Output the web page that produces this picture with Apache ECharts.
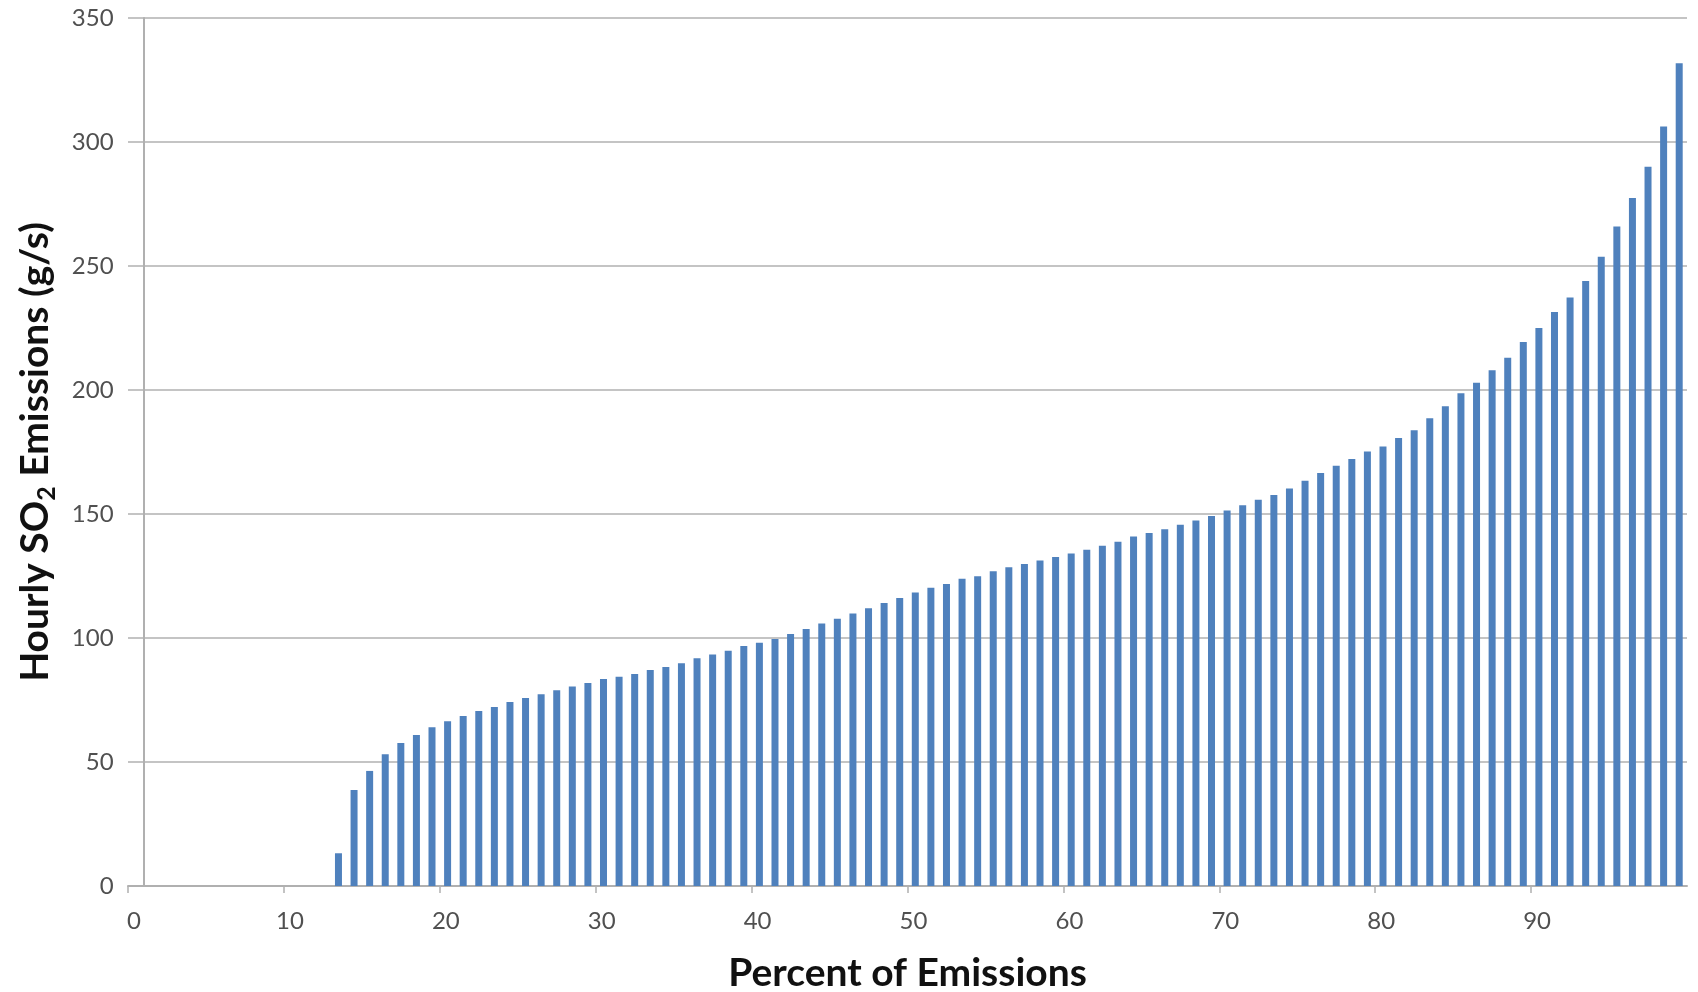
<!DOCTYPE html>
<html>
<head>
<meta charset="utf-8">
<script src="https://cdn.jsdelivr.net/npm/echarts@6/dist/echarts.min.js"></script>
<style>
  html, body { margin: 0; padding: 0; background: #fff; }
  #chart { width: 1698px; height: 992px; }
</style>
</head>
<body>
<div id="chart"></div>
<script>
// Percentile categories (0..99)
const categories = [
  '0','1','2','3','4','5','6','7','8','9',
  '10','11','12','13','14','15','16','17','18','19',
  '20','21','22','23','24','25','26','27','28','29',
  '30','31','32','33','34','35','36','37','38','39',
  '40','41','42','43','44','45','46','47','48','49',
  '50','51','52','53','54','55','56','57','58','59',
  '60','61','62','63','64','65','66','67','68','69',
  '70','71','72','73','74','75','76','77','78','79',
  '80','81','82','83','84','85','86','87','88','89',
  '90','91','92','93','94','95','96','97','98','99'
];

// Hourly SO2 emissions (g/s) per percentile
const emissions = [
  null, null, null, null, null, null, null, null, null, null,
  null, null, null, 13.2, 38.7, 46.4, 53.1, 57.7, 60.9, 64.0,
  66.4, 68.5, 70.6, 72.2, 74.2, 75.8, 77.3, 78.9, 80.4, 81.9,
  83.5, 84.4, 85.5, 87.1, 88.3, 89.8, 91.8, 93.3, 94.9, 96.8,
  98.1, 99.6, 101.6, 103.6, 105.8, 107.8, 109.9, 112.0, 114.1, 116.1,
  118.3, 120.3, 121.8, 123.9, 124.9, 126.9, 128.5, 129.8, 131.2, 132.7,
  134.1, 135.6, 137.2, 138.8, 140.9, 142.3, 143.9, 145.7, 147.4, 149.2,
  151.4, 153.5, 155.7, 157.7, 160.3, 163.4, 166.5, 169.5, 172.2, 175.2,
  177.2, 180.6, 183.8, 188.6, 193.4, 198.7, 202.9, 208.0, 213.0, 219.4,
  225.0, 231.5, 237.3, 244.0, 253.7, 265.9, 277.4, 290.0, 306.3, 331.8
];

const xRange = { min: 0, max: 100, interval: 10 };
const yRange = { min: 0, max: 350, interval: 50 };
const xTitle = 'Percent of Emissions';

const FONT = 'Lato';
const chart = echarts.init(document.getElementById('chart'), null, { renderer: 'canvas' });

chart.setOption({
  animation: false,
  backgroundColor: '#ffffff',
  grid: { left: 128, right: 11, top: 18, bottom: 106, containLabel: false, outerBoundsMode: 'none' },
  xAxis: [
    {
      type: 'value',
      min: xRange.min, max: xRange.max, interval: xRange.interval,
      axisLine: { show: true, lineStyle: { color: '#B0B0B0', width: 2 } },
      axisTick: { show: true, length: 7, lineStyle: { color: '#B0B0B0', width: 1.5 } },
      splitLine: { show: false },
      axisLabel: {
        showMaxLabel: false,
        color: '#505050', fontFamily: FONT, fontSize: 24, margin: 23,
        padding: [0, 0, 0, 12]
      },
      name: xTitle,
      nameLocation: 'middle',
      nameGap: 68,
      nameTextStyle: { fontFamily: FONT, fontWeight: 'bold', fontSize: 39, color: '#111' }
    },
    {
      type: 'category',
      data: categories,
      boundaryGap: true,
      show: false
    }
  ],
  yAxis: {
    type: 'value',
    min: yRange.min, max: yRange.max, interval: yRange.interval,
    offset: -15.6,
    axisLine: { show: true, onZero: false, lineStyle: { color: '#B0B0B0', width: 2 } },
    axisTick: { show: false },
    splitLine: { show: true, lineStyle: { color: '#C4C4C4', width: 2 } },
    axisLabel: { color: '#505050', fontFamily: FONT, fontSize: 24, margin: 30 },
    name: '{a|Hourly SO}{s|2}{a| Emissions (g/s)}',
    nameLocation: 'middle',
    nameRotate: 90,
    nameGap: 84,
    nameTextStyle: {
      fontFamily: FONT, fontWeight: 'bold', fontSize: 39, color: '#111',
      rich: {
        a: { fontFamily: FONT, fontWeight: 'bold', fontSize: 39, color: '#111', lineHeight: 48, verticalAlign: 'middle' },
        s: { fontFamily: FONT, fontWeight: 'bold', fontSize: 25, color: '#111', verticalAlign: 'bottom' }
      }
    }
  },
  series: [
    {
      type: 'bar',
      xAxisIndex: 1,
      data: emissions,
      barWidth: 7,
      itemStyle: { color: '#4F81BD' }
    }
  ]
});
</script>
</body>
</html>
